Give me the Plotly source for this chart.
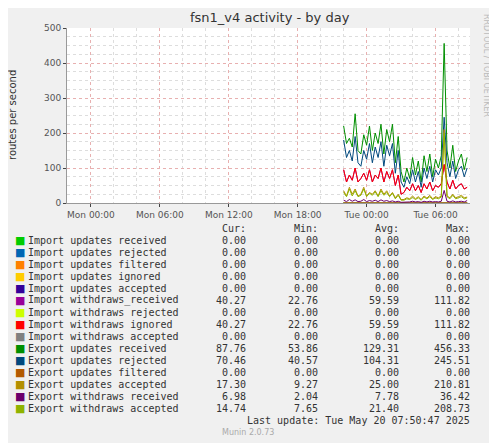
import plotly.graph_objects as go
import pandas as pd

# data, 15 minute steps from Mon 22:00
start = "2025-05-19 22:00"
exp_upd_recv = [220, 170, 185, 160, 255, 150, 140, 195, 165, 220, 150, 200, 170, 225, 140, 210, 175, 225, 115, 190, 90,
                60, 100, 70, 130, 80, 120, 60, 135, 90, 140, 75, 125, 100, 135, 456, 150, 100, 165, 90, 120, 140, 95, 130]
exp_upd_rej = [180, 130, 150, 120, 190, 115, 105, 150, 125, 170, 115, 160, 130, 175, 105, 165, 135, 170, 85, 150, 60,
               45, 75, 55, 95, 60, 90, 45, 100, 70, 105, 60, 95, 80, 100, 245, 115, 75, 120, 70, 95, 105, 75, 100]
imp_wd_ign = [95, 60, 80, 65, 100, 60, 70, 85, 65, 95, 60, 80, 70, 100, 60, 90, 70, 95, 50, 80, 25,
              30, 45, 35, 55, 35, 50, 30, 55, 40, 60, 35, 50, 45, 55, 110, 60, 40, 65, 40, 50, 55, 40, 45]
imp_wd_recv = imp_wd_ign
exp_upd_acc = [35, 20, 45, 25, 40, 20, 25, 45, 20, 30, 25, 35, 20, 40, 25, 35, 20, 30, 15, 25, 10,
               10, 15, 12, 20, 12, 18, 10, 20, 14, 22, 12, 18, 15, 20, 210, 20, 15, 25, 15, 18, 22, 15, 17]
exp_wd_acc = [30, 18, 40, 20, 35, 18, 22, 40, 18, 28, 22, 32, 18, 35, 22, 30, 18, 28, 12, 22, 8,
              8, 12, 10, 16, 10, 15, 8, 17, 12, 18, 10, 15, 12, 17, 200, 18, 12, 22, 12, 15, 18, 12, 15]
exp_wd_recv = [8, 4, 10, 5, 9, 4, 5, 10, 4, 7, 5, 8, 4, 9, 5, 7, 4, 6, 3, 5, 2,
               2, 4, 3, 5, 3, 4, 2, 5, 3, 5, 3, 4, 3, 5, 36, 5, 3, 6, 3, 4, 5, 3, 7]
zeros = [0] * len(exp_upd_recv)

names = ["Import updates received", "Import updates rejected", "Import updates filtered",
         "Import updates ignored", "Import updates accepted", "Import withdraws_received",
         "Import withdraws rejected", "Import withdraws ignored", "Import withdraws accepted",
         "Export updates received", "Export updates rejected", "Export updates filtered",
         "Export updates accepted", "Export withdraws received", "Export withdraws accepted"]
colors = ["#00CC00", "#0066B3", "#FF8000", "#FFCC00", "#330099", "#990099", "#CCFF00", "#FF0000",
          "#808080", "#008F00", "#00487D", "#B35A00", "#B38F00", "#6B006B", "#8FB300"]
series = [zeros, zeros, zeros, zeros, zeros, imp_wd_recv, zeros, imp_wd_ign, zeros,
          exp_upd_recv, exp_upd_rej, zeros, exp_upd_acc, exp_wd_recv, exp_wd_acc]
cur = ["0.00", "0.00", "0.00", "0.00", "0.00", "40.27", "0.00", "40.27", "0.00", "87.76", "70.46", "0.00", "17.30", "6.98", "14.74"]
mins = ["0.00", "0.00", "0.00", "0.00", "0.00", "22.76", "0.00", "22.76", "0.00", "53.86", "40.57", "0.00", "9.27", "2.04", "7.65"]
avgs = ["0.00", "0.00", "0.00", "0.00", "0.00", "59.59", "0.00", "59.59", "0.00", "129.31", "104.31", "0.00", "25.00", "7.78", "21.40"]
maxs = ["0.00", "0.00", "0.00", "0.00", "0.00", "111.82", "0.00", "111.82", "0.00", "456.33", "245.51", "0.00", "210.81", "36.42", "208.73"]

times = pd.date_range(start, periods=len(exp_upd_recv), freq="15min")

fig = go.Figure()
draw_order = [0, 1, 2, 3, 4, 6, 8, 9, 10, 11, 5, 7, 12, 14, 13]
for i in draw_order:
    fig.add_trace(go.Scatter(x=times, y=series[i], mode="lines", line=dict(color=colors[i], width=1),
                             showlegend=False, hoverinfo="skip"))

# page body has an 8px margin, so work in shifted pixel coords
O = 8
W, H = 497 - O, 443 - O
L, R, T, B = 67 - O, 470 - O, 28 - O, 203 - O
def px(x, y):
    x, y = x - O, y - O
    return (x - L) / (R - L), (B - y) / (B - T)

mono = "DejaVu Sans Mono"
ann = []
def text(x, y, s, anchor="left", size=10, color="#333333", family=mono, **kw):
    xp, yp = px(x, y)
    ann.append(dict(x=xp, y=yp, xref="paper", yref="paper", text=s, showarrow=False, xanchor=anchor,
                    yanchor="middle", font=dict(family=family, size=size, color=color), **kw))

text(248, 228, "Cur:", "right")
text(320, 228, "Min:", "right")
text(401, 228, "Avg:", "right")
text(472, 228, "Max:", "right")
for k, n in enumerate(names):
    y = 240 + k * 12
    text(13, y, "■", color=colors[k], size=11, family="DejaVu Sans")
    text(26, y, n)
    text(248, y, cur[k], "right")
    text(320, y, mins[k], "right")
    text(401, y, avgs[k], "right")
    text(472, y, maxs[k], "right")
text(472, 420, "Last update: Tue May 20 07:50:47 2025", "right")
text(248, 432, "Munin 2.0.73", "center", size=8, color="#AAAAAA", family="DejaVu Sans")
text(487, 65, "RRDTOOL / TOBI OETIKER", "center", size=8, color="#BBBBBB", family="DejaVu Sans", textangle=90)
text(270, 18, "fsn1_v4 activity - by day", "center", size=13, color="#333333", family="DejaVu Sans")
text(12, 115, "routes per second", "center", size=10, color="#333333", family="DejaVu Sans", textangle=-90)

fig.update_layout(
    width=W, height=H, margin=dict(l=L, r=W - R, t=T, b=H - B),
    paper_bgcolor="#F0F0F0", plot_bgcolor="#FFFFFF", annotations=ann,
    font=dict(family="DejaVu Sans", size=9, color="#555555"),
)
fig.update_xaxes(range=["2025-05-18 21:55", "2025-05-20 09:00"], tickformat="%a %H:%M",
                 tickvals=pd.date_range("2025-05-19 00:00", periods=6, freq="6h"),
                 showgrid=True, gridcolor="#E8B0B0", griddash="dot", gridwidth=1,
                 minor=dict(dtick=3600000 * 2, showgrid=True, gridcolor="#DDDDDD", griddash="dot"),
                 showline=True, linecolor="#999999", ticks="outside", ticklen=3, zeroline=False)
fig.update_yaxes(range=[0, 500], dtick=100, showgrid=True, gridcolor="#E8B0B0", griddash="dot",
                 minor=dict(dtick=25, showgrid=True, gridcolor="#DDDDDD", griddash="dot"),
                 showline=True, linecolor="#999999", zeroline=False, ticks="outside", ticklen=3)

fig.write_html("out.html")
